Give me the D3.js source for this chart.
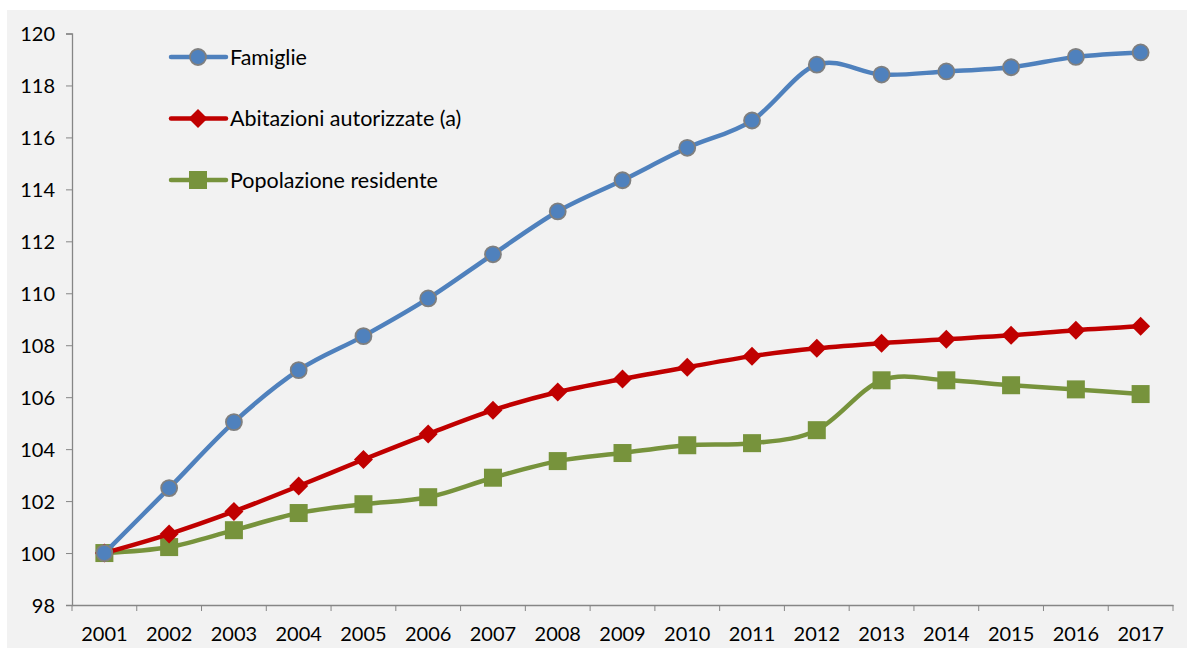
<!DOCTYPE html>
<html>
<head>
<meta charset="utf-8">
<script src="https://cdn.jsdelivr.net/npm/d3@7"></script>
<style>
  body { margin: 0; background: #fff; }
  svg text { font-family: Lato, "Open Sans", sans-serif; fill: #000; }
</style>
</head>
<body>
<script>
var years = ['2001','2002','2003','2004','2005','2006','2007','2008','2009','2010','2011','2012','2013','2014','2015','2016','2017'];
var famiglie = [100, 102.5, 105.04, 107.04, 108.35, 109.8, 111.5, 113.15, 114.35, 115.6, 116.65, 118.8, 118.42, 118.54, 118.7, 119.1, 119.27];
var abitazioni = [100, 100.73, 101.6, 102.58, 103.6, 104.58, 105.5, 106.2, 106.7, 107.15, 107.58, 107.88, 108.08, 108.23, 108.38, 108.58, 108.73];
var popolazione = [100, 100.23, 100.88, 101.54, 101.88, 102.15, 102.9, 103.54, 103.85, 104.15, 104.23, 104.73, 106.65, 106.65, 106.46, 106.3, 106.12];
var yTicks = [98, 100, 102, 104, 106, 108, 110, 112, 114, 116, 118, 120];
var seriesNames = ['Famiglie', 'Abitazioni autorizzate (a)', 'Popolazione residente'];

var w = 1187, h = 648;
var svg = d3.select('body').append('svg').attr('width', w).attr('height', h);

// chart panel
svg.append('rect')
    .attr('x', 7).attr('y', 10)
    .attr('width', w - 7).attr('height', h - 10)
    .attr('fill', '#f2f2f2');

var plotLeft = 72, plotRight = 1173, plotTop = 33.5, plotBottom = 605;

var x = d3.scaleBand().domain(years).range([plotLeft, plotRight]);
var y = d3.scaleLinear().domain([98, 120]).range([plotBottom, plotTop]);

// axes
var yAxis = svg.append('g')
    .attr('transform', 'translate(' + plotLeft + ',0)')
    .call(d3.axisLeft(y).tickValues(yTicks).tickSize(6).tickPadding(11));
var xAxis = svg.append('g')
    .attr('transform', 'translate(0,' + plotBottom + ')')
    .call(d3.axisBottom(x).tickSize(0).tickPadding(22));
// x ticks at category boundaries
xAxis.selectAll('.bound')
    .data(d3.range(years.length + 1))
    .enter().append('line')
    .attr('x1', function(i) { return plotLeft + i * x.step(); })
    .attr('x2', function(i) { return plotLeft + i * x.step(); })
    .attr('y1', 0).attr('y2', 6)
    .attr('stroke', '#868686');
[yAxis, xAxis].forEach(function(a) {
  a.select('.domain').attr('stroke', '#868686').attr('stroke-width', 1.3);
  a.selectAll('.tick line').attr('stroke', '#868686');
  a.selectAll('.tick text').attr('font-size', 20).attr('fill', '#000');
});
yAxis.selectAll('.tick text').attr('dy', '0.35em');

var cx = function(i) { return x(years[i]) + x.bandwidth() / 2; };
var line = d3.line()
    .x(function(d, i) { return cx(i); })
    .y(function(d) { return y(d); })
    .curve(d3.curveCatmullRom.alpha(0));

var series = [
  { name: seriesNames[0], values: famiglie, color: '#4f81bd', marker: 'circle' },
  { name: seriesNames[1], values: abitazioni, color: '#c00000', marker: 'diamond' },
  { name: seriesNames[2], values: popolazione, color: '#77933c', marker: 'square' }
];

function drawMarker(g, type, color, px, py) {
  if (type === 'circle') {
    g.append('circle').attr('cx', px).attr('cy', py).attr('r', 8)
      .attr('fill', color).attr('stroke', '#7f7f7f').attr('stroke-width', 1.8);
  } else if (type === 'diamond') {
    g.append('path')
      .attr('d', 'M' + px + ',' + (py - 9.5) + 'L' + (px + 9.5) + ',' + py + 'L' + px + ',' + (py + 9.5) + 'L' + (px - 9.5) + ',' + py + 'Z')
      .attr('fill', color);
  } else {
    g.append('rect').attr('x', px - 9).attr('y', py - 9)
      .attr('width', 18).attr('height', 18).attr('fill', color);
  }
}

// draw lines from bottom series to top so famiglie is on top
series.slice().reverse().forEach(function(s) {
  var g = svg.append('g');
  g.append('path')
    .datum(s.values)
    .attr('d', line)
    .attr('fill', 'none')
    .attr('stroke', s.color)
    .attr('stroke-width', 4.5)
    .attr('stroke-linejoin', 'round');
  s.values.forEach(function(v, i) { drawMarker(g, s.marker, s.color, cx(i), y(v)); });
});

// legend
var legY = [57, 118.5, 180];
series.forEach(function(s, i) {
  var g = svg.append('g');
  g.append('line')
    .attr('x1', 171).attr('x2', 226)
    .attr('y1', legY[i]).attr('y2', legY[i])
    .attr('stroke', s.color).attr('stroke-width', 4.5).attr('stroke-linecap', 'round');
  drawMarker(g, s.marker, s.color, 198, legY[i]);
  g.append('text')
    .attr('x', 230).attr('y', legY[i]).attr('dy', '0.35em')
    .attr('font-size', 21.5)
    .text(s.name);
});
</script>
</body>
</html>
